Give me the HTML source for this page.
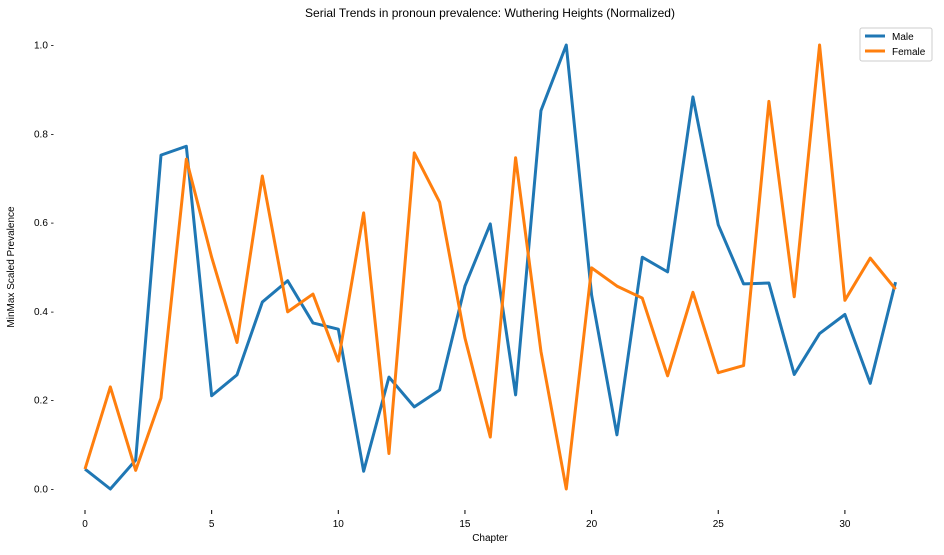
<!DOCTYPE html>
<html><head><meta charset="utf-8"><style>
body{margin:0;background:#fff;font-family:"Liberation Sans",sans-serif}
svg text{font-family:"Liberation Sans",sans-serif;fill:#000}
</style></head><body>
<svg id="chart" width="944" height="550">
<text x="490" y="17" font-size="12" text-anchor="middle">Serial Trends in pronoun prevalence: Wuthering Heights (Normalized)</text>
<g id="yt"></g>
<g id="xt"></g>
<text x="490" y="541" font-size="10" text-anchor="middle">Chapter</text>
<text transform="translate(14,267) rotate(-90)" font-size="10" text-anchor="middle">MinMax Scaled Prevalence</text>
<g id="series"></g>
<g>
<rect x="860" y="28" width="72" height="33" fill="#fff" stroke="#ccc" rx="2"/>
<line x1="865" y1="36" x2="885" y2="36" stroke="#1f77b4" stroke-width="3"/>
<text x="892" y="40" font-size="10">Male</text>
<line x1="865" y1="51" x2="885" y2="51" stroke="#ff7f0e" stroke-width="3"/>
<text x="892" y="55" font-size="10">Female</text>
</g>
</svg>
<script>
const chapters=[0,1,2,3,4,5,6,7,8,9,10,11,12,13,14,15,16,17,18,19,20,21,22,23,24,25,26,27,28,29,30,31,32];
const male=[0.045,0.0,0.065,0.752,0.772,0.21,0.257,0.421,0.469,0.374,0.36,0.04,0.252,0.185,0.223,0.457,0.597,0.212,0.852,1.0,0.437,0.122,0.522,0.489,0.883,0.595,0.462,0.464,0.258,0.35,0.393,0.238,0.466];
const female=[0.045,0.23,0.042,0.205,0.743,0.522,0.33,0.705,0.399,0.439,0.288,0.622,0.08,0.757,0.646,0.34,0.117,0.746,0.31,0.0,0.498,0.457,0.43,0.255,0.443,0.262,0.278,0.873,0.433,1.0,0.425,0.52,0.45];
const xTicks=[0,5,10,15,20,25,30];
const yTicks=[0.0,0.2,0.4,0.6,0.8,1.0];
const NS="http://www.w3.org/2000/svg";
function X(v){return 85+v*25.33;}
function Y(v){return 489-v*444;}
const yt=document.getElementById('yt'),xt=document.getElementById('xt'),sg=document.getElementById('series');
yTicks.forEach(v=>{
 const t=document.createElementNS(NS,'text');
 
 
 t.setAttribute('x',54);t.setAttribute('y',Y(v)+3.5);t.setAttribute('font-size','10');t.setAttribute('text-anchor','end');
 t.textContent=v.toFixed(1)+' -';yt.appendChild(t);
});
xTicks.forEach(v=>{
 const t=document.createElementNS(NS,'text');
 
 
 t.setAttribute('x',X(v));t.setAttribute('y',527);t.setAttribute('font-size','10');t.setAttribute('text-anchor','middle');
 t.textContent=v;xt.appendChild(t);
 const l=document.createElementNS(NS,'line');
 
 
 l.setAttribute('x1',X(v));l.setAttribute('x2',X(v));l.setAttribute('y1',510);l.setAttribute('y2',514);l.setAttribute('stroke','#000');
 xt.appendChild(l);
});
[[male,'#1f77b4','male-line'],[female,'#ff7f0e','female-line']].forEach(([d,c,n])=>{
 const p=document.createElementNS(NS,'polyline');
 
 
 p.setAttribute('points',d.map((v,i)=>X(chapters[i])+','+Y(v)).join(' '));
 p.setAttribute('fill','none');p.setAttribute('stroke',c);p.setAttribute('stroke-width','3');p.setAttribute('stroke-linejoin','round');
 sg.appendChild(p);
});
</script>
</body></html>
